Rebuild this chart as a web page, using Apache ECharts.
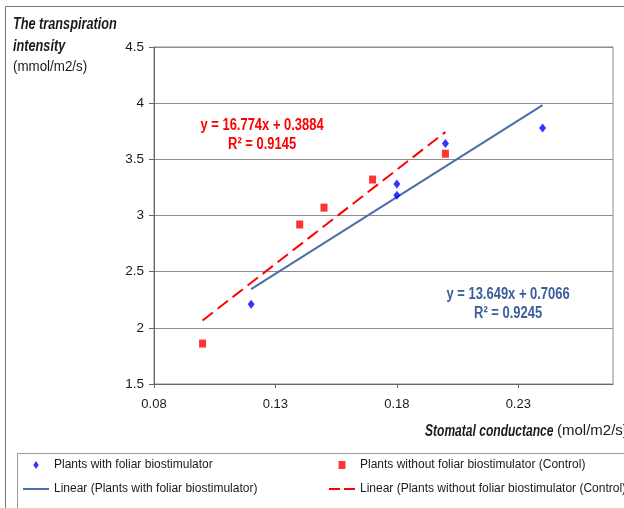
<!DOCTYPE html>
<html>
<head>
<meta charset="utf-8">
<script src="https://cdn.jsdelivr.net/npm/echarts@6/dist/echarts.min.js"></script>
<style>
  html, body { margin: 0; padding: 0; background: #fff; }
  #chart { width: 624px; height: 508px; }
</style>
</head>
<body>
<div id="chart"></div>
<script>
// Transpiration intensity vs stomatal conductance, two treatments with linear fits
const FONT = "'Liberation Sans', Arial, sans-serif";

const xTickValues = [0.08, 0.13, 0.18, 0.23];
const yTickValues = [1.5, 2, 2.5, 3, 3.5, 4, 4.5];

const withBioX = [0.12, 0.18, 0.18, 0.20, 0.24];
const withBioY = [2.21, 3.28, 3.18, 3.64, 3.78];

const controlX = [0.10, 0.14, 0.15, 0.17, 0.20];
const controlY = [1.86, 2.92, 3.07, 3.32, 3.55];

// Fitted lines as printed on the chart: [slope, intercept, R²]
const fitWithBio = [13.649, 0.7066, 0.9245];
const fitControl = [16.774, 0.3884, 0.9145];

// Where each equation block sits, in axis units [x, y]
const eqAnchorWithBio = [0.2258, 2.215];
const eqAnchorControl = [0.1245, 3.715];

const names = [
  'Plants with foliar biostimulator',
  'Plants without foliar biostimulator (Control)',
  'Linear (Plants with foliar biostimulator)',
  'Linear (Plants without foliar biostimulator (Control))'
];

const BLUE_PT = '#0000ff';
const RED = '#ff0000';
const BLUE_LINE = '#4a6ea9';
const BLUE_TEXT = '#3b5d9c';
const GRID = '#8c8c8c';
const INK = '#1a1a1a';

function zip(xs, ys) { return xs.map((x, i) => [x, ys[i]]); }
function fitLine(xs, fit) {
  const lo = Math.min(...xs), hi = Math.max(...xs);
  return [[lo, fit[0] * lo + fit[1]], [hi, fit[0] * hi + fit[1]]];
}
function eqLines(fit) {
  return ['y = ' + fit[0].toFixed(3) + 'x + ' + fit[1].toFixed(4), 'R\u00b2 = ' + fit[2].toFixed(4)];
}

// Condensed-looking text: regular face squeezed horizontally
function squeezedText(x, y, text, opts) {
  return {
    type: 'text', x: x, y: y, scaleX: opts.scaleX, scaleY: 1, z: 10,
    style: {
      x: 0, y: 0, text: text,
      fontFamily: FONT, fontSize: opts.fontSize, fontWeight: opts.fontWeight || 'normal',
      fontStyle: opts.fontStyle || 'normal', fill: opts.fill || INK,
      align: opts.align || 'left', verticalAlign: 'middle'
    }
  };
}

const chart = echarts.init(document.getElementById('chart'), null, { renderer: 'canvas' });

const frameGraphics = [
  { type: 'rect', shape: { x: 5.5, y: 6.5, width: 700, height: 600 }, style: { fill: 'none', stroke: '#777', lineWidth: 1 }, z: -1 },
  { type: 'rect', shape: { x: 17.5, y: 453.5, width: 700, height: 100 }, style: { fill: 'none', stroke: '#999', lineWidth: 1 }, z: -1 },
  squeezedText(13, 24, 'The transpiration', { fontSize: 16.5, fontWeight: 'bold', fontStyle: 'italic', scaleX: 0.77 }),
  squeezedText(13, 46, 'intensity', { fontSize: 16.5, fontWeight: 'bold', fontStyle: 'italic', scaleX: 0.77 }),
  squeezedText(13, 67, '(mmol/m2/s)', { fontSize: 15, scaleX: 0.89 }),
  squeezedText(425, 431, 'Stomatal conductance', { fontSize: 16.5, fontWeight: 'bold', fontStyle: 'italic', scaleX: 0.73 }),
  squeezedText(557, 431, '(mol/m2/s)', { fontSize: 15, scaleX: 1 })
];

chart.setOption({
  animation: false,
  backgroundColor: '#fff',
  textStyle: { fontFamily: FONT },
  graphic: frameGraphics,
  grid: { left: 154, right: 11, top: 47, bottom: 124, show: true, borderColor: GRID, borderWidth: 1, backgroundColor: 'transparent' },
  xAxis: {
    type: 'value',
    min: 0.08, max: 0.269,
    axisLine: { show: true, onZero: false, lineStyle: { color: '#666', width: 1 } },
    axisTick: { show: true, length: 4, customValues: xTickValues, lineStyle: { color: '#666' } },
    axisLabel: { customValues: xTickValues, color: INK, fontSize: 13, fontFamily: FONT, margin: 14,
      formatter: v => v.toFixed(2) },
    splitLine: { show: false }
  },
  yAxis: {
    type: 'value',
    min: 1.5, max: 4.5, interval: 0.5,
    axisLine: { show: true, lineStyle: { color: '#666', width: 1 } },
    axisTick: { show: true, length: 5, lineStyle: { color: '#666' } },
    axisLabel: { color: INK, fontSize: 13.5, fontFamily: FONT, margin: 10,
      formatter: v => (yTickValues.indexOf(v) >= 0 ? String(v) : '') },
    splitLine: { show: true, lineStyle: { color: GRID, width: 1 } }
  },
  legend: [
    {
      left: 22, top: 459, orient: 'vertical', itemGap: 12, itemWidth: 26, itemHeight: 8, padding: 0,
      selectedMode: false,
      textStyle: { fontFamily: FONT, fontSize: 12, color: INK },
      data: [
        { name: names[0], icon: 'path://M3,0L6,4.5L3,9L0,4.5Z' },
        { name: names[2], itemStyle: { opacity: 0 }, lineStyle: { width: 2 } }
      ]
    },
    {
      left: 328, top: 459, orient: 'vertical', itemGap: 12, itemWidth: 26, itemHeight: 8, padding: 0,
      selectedMode: false,
      textStyle: { fontFamily: FONT, fontSize: 12, color: INK },
      data: [
        { name: names[1], icon: 'path://M0,0H6V7H0Z' },
        { name: names[3], itemStyle: { opacity: 0 }, lineStyle: { width: 2, type: [11, 4] } }
      ]
    }
  ],
  series: [
    {
      name: names[0], type: 'scatter', data: zip(withBioX, withBioY),
      symbol: 'diamond', symbolSize: [7, 9], itemStyle: { color: BLUE_PT }, z: 5
    },
    {
      name: names[1], type: 'scatter', data: zip(controlX, controlY),
      symbol: 'rect', symbolSize: [7, 8], itemStyle: { color: RED }, z: 5
    },
    {
      name: names[2], type: 'line', data: fitLine(withBioX, fitWithBio),
      showSymbol: false, symbol: 'none', lineStyle: { color: BLUE_LINE, width: 2 }, itemStyle: { color: BLUE_LINE }
    },
    {
      name: names[3], type: 'line', data: fitLine(controlX, fitControl),
      showSymbol: false, symbol: 'none', lineStyle: { color: RED, width: 2, type: [13, 6] }, itemStyle: { color: RED }
    }
  ]
});

// Equation blocks, placed through the axis scales
function equationGraphics(anchor, fit, color) {
  const p = chart.convertToPixel({ gridIndex: 0 }, anchor);
  const lines = eqLines(fit);
  return [
    squeezedText(p[0], p[1] - 9.5, lines[0], { fontSize: 16, fontWeight: 'bold', scaleX: 0.81, align: 'center', fill: color }),
    squeezedText(p[0], p[1] + 9.5, lines[1], { fontSize: 16, fontWeight: 'bold', scaleX: 0.81, align: 'center', fill: color })
  ];
}

chart.setOption({
  graphic: frameGraphics
    .concat(equationGraphics(eqAnchorControl, fitControl, RED))
    .concat(equationGraphics(eqAnchorWithBio, fitWithBio, BLUE_TEXT))
});
</script>
</body>
</html>
